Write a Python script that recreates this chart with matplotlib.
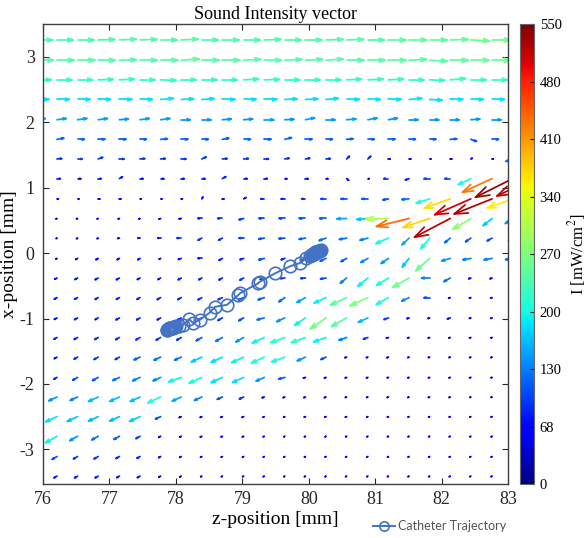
import numpy as np
import matplotlib
matplotlib.use("Agg")
import matplotlib.pyplot as plt
from matplotlib.collections import LineCollection
from matplotlib.colors import Normalize

plt.rcParams['font.family'] = 'Liberation Serif'
plt.rcParams['mathtext.fontset'] = 'stix'
plt.rcParams['axes.unicode_minus'] = False

# measurement grid (z along columns, x along rows)
z_grid = [75.90, 76.21, 76.52, 76.83, 77.15, 77.46, 77.77, 78.08, 78.39, 78.70, 79.02, 79.33, 79.64,
          79.95, 80.26, 80.57, 80.89, 81.20, 81.51, 81.82, 82.13, 82.44, 82.76, 83.07, 83.38]
x_grid = [3.26, 2.95, 2.65, 2.35, 2.04, 1.74, 1.44, 1.14, 0.83, 0.53, 0.23, -0.08, -0.38, -0.68,
          -0.99, -1.29, -1.59, -1.90, -2.20, -2.50, -2.80, -3.11, -3.41]

# intensity magnitude [mW/cm^2], one row per x position
intensity = [
    [235,235,240,240,245,245,240,245,240,240,240,240,240,240,245,245,240,250,255,250,255,265,265,260,260],
    [245,245,245,245,245,245,245,255,245,250,245,245,245,245,245,245,245,255,250,250,255,260,260,260,260],
    [220,220,220,220,220,220,225,220,220,220,220,220,220,220,220,220,225,220,220,220,225,225,225,225,225],
    [190,190,190,190,190,190,195,190,190,190,190,190,190,190,190,190,190,190,195,190,190,190,190,190,190],
    [150,155,155,155,150,155,155,150,150,150,150,155,150,155,150,155,155,150,150,150,150,150,150,150,150],
    [125,125,125,120,120,120,125,120,120,120,125,120,125,120,120,120,120,120,120,115,120,115,120,120,120],
    [100,100,100,100,100,100,100,100,100,100,100,95,95,95,95,90,90,65,62,60,60,62,60,130,120],
    [85,85,80,80,85,80,80,80,80,90,85,80,65,75,65,75,60,100,90,110,110,210,430,535,520],
    [65,62,62,62,62,60,60,60,70,62,75,85,85,90,105,110,115,110,130,210,370,510,525,360,300],
    [58,58,58,58,60,60,65,70,90,100,100,105,110,115,120,160,175,310,440,375,520,290,180,150,130],
    [55,55,58,58,65,70,80,95,95,95,100,110,115,120,130,130,140,205,160,210,130,120,110,100,100],
    [60,60,70,75,75,75,65,80,90,90,90,110,90,110,120,120,140,150,175,265,150,140,140,130,120],
    [75,75,80,85,85,80,80,85,85,90,95,95,100,100,110,140,200,210,265,140,130,70,70,65,65],
    [80,80,85,85,85,85,90,90,95,100,110,120,130,160,200,255,275,210,140,110,65,62,62,60,60],
    [80,80,85,85,90,90,90,95,100,105,110,130,150,200,270,250,170,100,70,65,80,62,62,60,60],
    [85,85,90,90,95,100,105,105,120,135,150,200,220,220,200,140,100,70,62,62,62,60,60,60,60],
    [80,80,90,100,100,120,130,130,180,190,200,210,210,150,110,65,62,65,60,60,60,60,60,58,58],
    [85,85,110,120,130,140,140,200,210,190,190,150,120,70,65,62,62,60,60,60,60,60,58,58,58],
    [200,150,140,170,170,170,210,160,140,110,100,70,65,65,65,60,60,60,60,60,60,58,58,58,58],
    [200,190,180,170,170,180,110,70,65,65,65,60,60,60,60,60,58,58,58,58,58,58,58,58,58],
    [200,200,150,130,120,100,70,65,65,62,62,58,58,58,58,58,58,58,58,58,58,58,58,58,58],
    [120,110,100,100,90,85,70,65,62,60,60,58,58,58,58,58,58,58,58,58,58,58,58,58,58],
    [90,85,85,85,80,80,70,65,60,58,58,58,58,58,58,58,58,58,58,58,58,58,58,58,58],
]

# direction of the intensity vector [deg], 0 = +z, 90 = +x
angle = [
    [0,0,0,2,3,2,0,3,0,0,0,2,0,0,2,2,0,0,0,0,2,-3,0,0,0],
    [0,0,0,0,2,0,0,4,0,0,3,0,3,3,4,0,0,0,3,-3,0,0,0,0,0],
    [0,0,0,2,3,0,-2,0,0,0,3,2,0,0,0,3,3,3,0,-2,5,0,0,0,0],
    [0,0,0,0,0,0,5,3,4,0,0,0,3,3,5,0,0,0,5,-3,0,0,0,0,0],
    [8,8,8,8,5,8,8,0,0,5,5,0,3,12,0,5,10,10,0,0,0,5,0,0,0],
    [15,10,0,0,0,0,5,0,0,10,0,0,15,0,0,5,0,0,0,0,5,-20,0,0,0],
    [5,5,0,20,0,5,5,0,25,5,5,0,10,10,5,45,45,0,0,0,0,30,0,200,205],
    [0,0,0,0,30,0,0,0,0,30,0,0,0,0,0,-40,0,180,200,180,180,206,205,207,206],
    [0,0,0,0,0,0,0,0,60,0,30,180,180,180,180,180,180,190,185,198,200,204,202,200,200],
    [200,200,200,200,200,200,200,190,180,180,195,180,180,180,180,182,185,182,194,199,208,211,219,215,210],
    [210,210,210,210,190,180,180,180,210,210,180,190,185,190,200,190,195,204,224,230,220,215,210,210,210],
    [210,210,210,210,210,210,210,200,180,210,200,195,200,205,205,210,210,215,232,222,197,190,190,190,190],
    [210,210,210,210,210,210,210,210,210,210,210,200,185,185,190,220,220,212,210,180,210,200,200,200,200],
    [210,210,210,210,210,210,210,210,210,205,205,200,215,210,205,205,205,210,205,180,200,200,200,200,200],
    [210,210,210,210,210,210,210,210,210,210,210,195,205,215,215,210,205,200,200,200,200,200,200,200,200],
    [210,210,210,210,210,210,210,210,210,210,210,205,200,200,200,200,200,200,200,200,200,200,200,200,200],
    [210,210,210,210,210,205,205,205,205,205,205,205,200,205,205,200,200,200,200,200,200,200,200,200,200],
    [210,210,210,210,205,205,205,200,205,205,205,205,195,200,200,200,200,200,200,200,200,200,200,200,200],
    [205,205,205,205,205,205,205,205,205,205,205,200,200,200,200,200,200,200,200,200,200,200,200,200,200],
    [205,205,205,205,205,205,205,205,205,205,205,200,200,200,200,200,200,200,200,200,200,200,200,200,200],
    [210,210,210,210,210,210,210,210,210,210,210,210,210,210,210,210,210,210,210,210,210,210,210,210,210],
    [210,210,210,210,210,210,210,210,210,210,210,210,210,210,210,210,210,210,210,210,210,210,210,210,210],
    [210,210,210,210,210,210,210,210,210,210,210,210,210,210,210,210,210,210,210,210,210,210,210,210,210],
]

# catheter tip positions
cath_z = [77.86, 77.87, 77.88, 77.89, 77.90, 77.91, 77.92, 77.93, 77.94, 77.95, 77.96, 77.97, 77.98,
          78.00, 78.05, 78.11, 78.20, 78.26, 78.36, 78.51, 78.59, 78.77, 78.94, 78.97, 79.24, 79.26,
          79.49, 79.72, 79.87, 79.96, 80.02, 80.04, 80.05, 80.06, 80.07, 80.08, 80.09, 80.10, 80.11,
          80.12, 80.13, 80.14, 80.15, 80.16, 80.17, 80.18]
cath_x = [-1.17, -1.17, -1.16, -1.16, -1.15, -1.15, -1.15, -1.14, -1.14, -1.14, -1.13, -1.13, -1.13,
          -1.12, -1.11, -1.095, -1.01, -1.07, -1.02, -0.91, -0.82, -0.79, -0.64, -0.61, -0.46, -0.44,
          -0.31, -0.20, -0.15, -0.08, -0.04, -0.03, -0.03, -0.02, -0.01, -0.01, 0.0, 0.01, 0.01,
          0.02, 0.02, 0.03, 0.03, 0.04, 0.04, 0.05]

cbar_labels = ['0', '68', '130', '200', '270', '340', '410', '480', '550']

I = np.array(intensity, dtype=float)
th = np.deg2rad(np.array(angle, dtype=float))
Z, X = np.meshgrid(z_grid, x_grid)
L = 0.00128 * np.clip(I - 45, 1, None)
U = L * np.cos(th)
V = L * np.sin(th)

# matlab-like quiver: shaft plus two barbs
alpha, beta = 0.33, 0.33
segs = []
vals = []
order = np.argsort(I.ravel())
for idx in order:
    z, x = Z.flat[idx], X.flat[idx]
    u, v = U.flat[idx], V.flat[idx]
    tz, tx = z + u, x + v
    b1 = (tz - alpha * (u + beta * v), tx - alpha * (v - beta * u))
    b2 = (tz - alpha * (u - beta * v), tx - alpha * (v + beta * u))
    segs.append([(z, x), (tz, tx)])
    segs.append([b1, (tz, tx), b2])
    vals += [I.flat[idx], I.flat[idx]]

fig = plt.figure(figsize=(5.87, 5.38), dpi=100)
ax = fig.add_axes([0.0733, 0.1004, 0.7922, 0.8545])

lc = LineCollection(segs, cmap='jet', norm=Normalize(0, 550), linewidths=1.25,
                    capstyle='round', joinstyle='round')
lc.set_array(np.array(vals))
ax.add_collection(lc)

line, = ax.plot(cath_z, cath_x, '-o', color='#4472C4', mfc='none', ms=9, mew=1.2, lw=1.4,
                label='Catheter Trajectory', zorder=3)

ax.set_xlim(76, 83)
ax.set_ylim(-3.53, 3.5)
ax.set_xticks(range(76, 84))
ax.set_yticks(range(-3, 4))
ax.tick_params(direction='in', top=True, right=True, length=4, width=0.8, labelsize=13, pad=5,
               colors='#262626')
ax.tick_params(axis='y', pad=6)
for s in ax.spines.values():
    s.set_color('#404040')
    s.set_linewidth(1.0)

ax.set_xlabel('z-position [mm]', fontsize=14, labelpad=2)
ax.set_ylabel('x-position [mm]', fontsize=14, labelpad=1)
ax.set_title('Sound Intensity vector', fontsize=13, pad=4)

cax = fig.add_axes([0.8859, 0.1004, 0.0239, 0.8545])
cb = fig.colorbar(lc, cax=cax)
cb.set_ticks(np.linspace(0, 550, 9))
cb.set_ticklabels(cbar_labels)
cb.ax.tick_params(direction='in', length=3, width=0.8, labelsize=10.5, pad=4)
cb.outline.set_edgecolor('#666666')
cb.outline.set_linewidth(0.8)
cb.set_label('I [mW/cm$^2$]', fontsize=12, labelpad=3)

fig.legend(handles=[line], loc='center left', bbox_to_anchor=(0.636, 0.022), frameon=False,
           prop={'family': 'Lato', 'size': 9}, handlelength=1.7, handletextpad=0.25,
           labelcolor='#555555', markerscale=0.75, borderpad=0, borderaxespad=0)

fig.savefig('out.png', dpi=100)
